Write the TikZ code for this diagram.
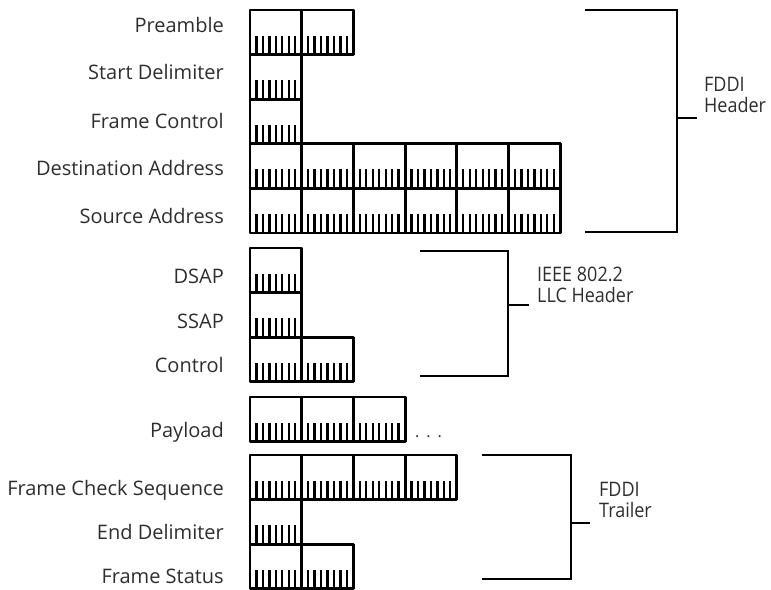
\documentclass[tikz,border=0pt]{standalone}
\usepackage{fontspec}
\setmainfont{Open Sans}
\newfontfamily\grpfont[FakeStretch=0.9]{Open Sans}
\begin{document}
\begin{tikzpicture}[x=1pt,y=-1pt,
  cell/.style={draw, line width=2.8pt, inner sep=0pt, outer sep=0pt, anchor=north west, line join=round},
  sepline/.style={line width=2.8pt},
  bittick/.style={line width=2.3pt},
  lbl/.style={anchor=base east, font=\fontsize{20}{21}\selectfont, text=black!82, inner sep=0pt},
  grp/.style={anchor=base west, align=left, font=\grpfont\fontsize{20}{21}\selectfont, text=black!82, inner sep=0pt},
  brk/.style={line width=2.8pt, line join=miter},
]
\useasboundingbox (0,0) rectangle (771,589);
\def\cw{51.7}
\def\rh{44.6}
% byte rows: name / top / number of bytes
\foreach \nm/\tp/\n in {pre/10/2, sd/54.6/1, fc/99.2/1, da/143.8/6, sa/188.4/6,
                        dsap/248/1, ssap/292.6/1, ctl/337.2/2,
                        pay/397/3,
                        fcs/455/4, ed/499.6/1, fs/544.2/2}{
  \node[cell, minimum width=\n*\cw pt, minimum height=\rh pt] (\nm) at (250,\tp) {};
  \foreach \c in {1,...,\n}{
    \pgfmathsetmacro\xl{250+(\c-1)*\cw}
    \pgfmathsetmacro\yb{\tp+\rh}
    \draw[sepline] (\xl+\cw,\tp) -- (\xl+\cw,\yb);
    \foreach \k in {1,...,7}{
      \draw[bittick] (\xl+\k*\cw/8,\yb) -- (\xl+\k*\cw/8,\yb-19);
    }
  }
}
% labels
\node[lbl] (lpre)  at (224,32)  {Preamble};
\node[lbl] (lsd)   at (224,79)  {Start Delimiter};
\node[lbl] (lfc)   at (224,128) {Frame Control};
\node[lbl] (lda)   at (224,175) {Destination Address};
\node[lbl] (lsa)   at (224,223) {Source Address};
\node[lbl] (ldsap) at (224,283) {DSAP};
\node[lbl] (lssap) at (224,328) {SSAP};
\node[lbl] (lctl)  at (224,372) {Control};
\node[lbl] (lpay)  at (224,437) {Payload};
\node[lbl] (lfcs)  at (224,495) {Frame Check Sequence};
\node[lbl] (led)   at (224,539) {End Delimiter};
\node[lbl] (lfs)   at (224,583) {Frame Status};
% ellipsis
\node[anchor=base west, inner sep=0pt, font=\fontsize{16}{21}\selectfont, text=black!82] (dots) at (415,437) {.\hspace{7pt}.\hspace{7pt}.};
% brackets
\coordinate (h1) at (585,10);  \coordinate (h2) at (677,10);
\coordinate (h3) at (677,232); \coordinate (h4) at (585,232);
\coordinate (hm) at (677,118); \coordinate (ht) at (697,118);
\draw[brk] (h1) -- (h2) -- (h3) -- (h4);
\draw[brk] (hm) -- (ht);
\node[grp] (ghdr) at (704,112) {FDDI\\Header};

\coordinate (l1) at (420,251); \coordinate (l2) at (508,251);
\coordinate (l3) at (508,376); \coordinate (l4) at (420,376);
\coordinate (lm) at (508,305); \coordinate (lt) at (529,305);
\draw[brk] (l1) -- (l2) -- (l3) -- (l4);
\draw[brk] (lm) -- (lt);
\node[grp] (gllc) at (537,302) {IEEE 802.2\\LLC Header};

\coordinate (t1) at (482,455); \coordinate (t2) at (571,455);
\coordinate (t3) at (571,579); \coordinate (t4) at (482,579);
\coordinate (tm) at (571,523); \coordinate (tt) at (590,523);
\draw[brk] (t1) -- (t2) -- (t3) -- (t4);
\draw[brk] (tm) -- (tt);
\node[grp] (gtrl) at (599,517) {FDDI\\Trailer};
\end{tikzpicture}
\end{document}
